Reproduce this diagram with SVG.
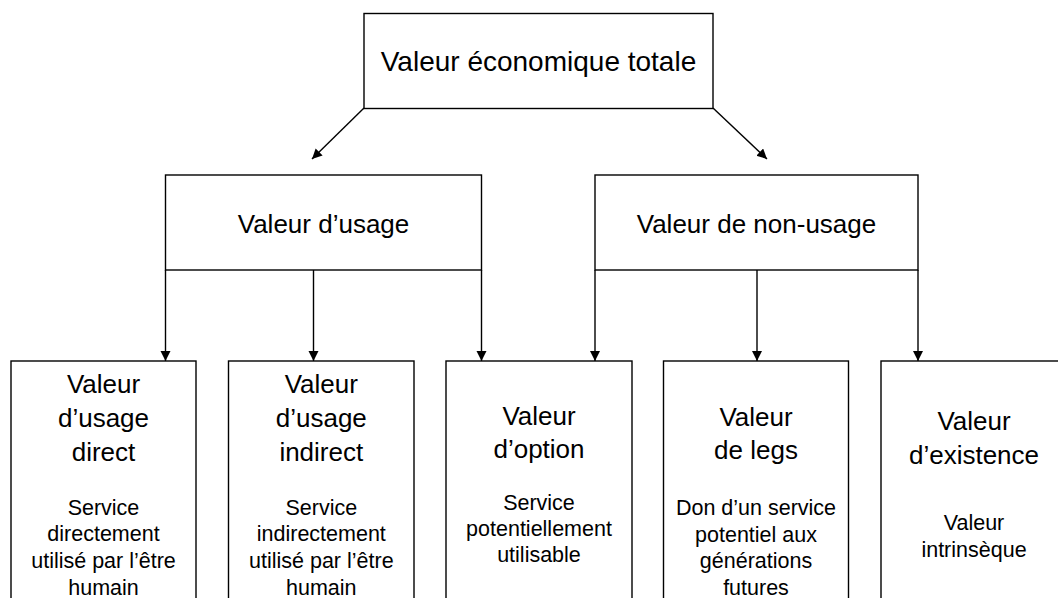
<svg xmlns="http://www.w3.org/2000/svg" width="1058" height="598" viewBox="0 0 1058 598">
<style>
.box{fill:#fff;stroke:#000;stroke-width:1.4}
.t{font-family:"Liberation Sans",Arial,sans-serif;fill:#000;text-anchor:middle}
.big{font-size:28px}
.mid{font-size:26px}
.ttl{font-size:26px}
.sm{font-size:21.5px}
.con{fill:none;stroke:#000;stroke-width:1.4}
</style>
<defs>
<marker id="ah" markerUnits="userSpaceOnUse" markerWidth="11" markerHeight="11" refX="10" refY="5" orient="auto">
<path d="M0,0 L10,5 L0,10 z" fill="#000"/>
</marker>
</defs>
<rect width="1058" height="598" fill="#fff"/>
<g id="connectors">
<line class="con" x1="364" y1="108" x2="312" y2="159" marker-end="url(#ah)"/>
<line class="con" x1="713" y1="108" x2="767" y2="159" marker-end="url(#ah)"/>
<line class="con" x1="165.5" y1="270" x2="165.5" y2="361" marker-end="url(#ah)"/>
<line class="con" x1="313.5" y1="270" x2="313.5" y2="361" marker-end="url(#ah)"/>
<line class="con" x1="481.5" y1="270" x2="481.5" y2="361" marker-end="url(#ah)"/>
<line class="con" x1="595" y1="270" x2="595" y2="361" marker-end="url(#ah)"/>
<line class="con" x1="757" y1="270" x2="757" y2="361" marker-end="url(#ah)"/>
<line class="con" x1="918" y1="270" x2="918" y2="361" marker-end="url(#ah)"/>
</g>
<g id="total">
<rect class="box" x="364" y="13.5" width="349" height="95"/>
<text class="t big" x="538.5" y="71">Valeur économique totale</text>
</g>
<g id="usage">
<rect class="box" x="165.5" y="175" width="316" height="95"/>
<text class="t mid" x="323.5" y="232.5">Valeur d’usage</text>
</g>
<g id="non-usage">
<rect class="box" x="595" y="175" width="323" height="95"/>
<text class="t mid" x="756.5" y="232.5">Valeur de non-usage</text>
</g>
<g id="direct">
<rect class="box" x="11" y="361" width="185" height="260"/>
<text class="t ttl" x="103.5" y="393">Valeur</text>
<text class="t ttl" x="103.5" y="427">d’usage</text>
<text class="t ttl" x="103.5" y="461">direct</text>
<text class="t sm" x="103.5" y="515">Service</text>
<text class="t sm" x="103.5" y="541">directement</text>
<text class="t sm" x="103.5" y="568">utilisé par l’être</text>
<text class="t sm" x="103.5" y="595">humain</text>
</g>
<g id="indirect">
<rect class="box" x="228.5" y="361" width="185.5" height="260"/>
<text class="t ttl" x="321.3" y="393">Valeur</text>
<text class="t ttl" x="321.3" y="427">d’usage</text>
<text class="t ttl" x="321.3" y="461">indirect</text>
<text class="t sm" x="321.3" y="515">Service</text>
<text class="t sm" x="321.3" y="541">indirectement</text>
<text class="t sm" x="321.3" y="568">utilisé par l’être</text>
<text class="t sm" x="321.3" y="595">humain</text>
</g>
<g id="option">
<rect class="box" x="446" y="361" width="186" height="260"/>
<text class="t ttl" x="539" y="425">Valeur</text>
<text class="t ttl" x="539" y="458">d’option</text>
<text class="t sm" x="539" y="510">Service</text>
<text class="t sm" x="539" y="536">potentiellement</text>
<text class="t sm" x="539" y="562">utilisable</text>
</g>
<g id="legs">
<rect class="box" x="663.5" y="361" width="185" height="260"/>
<text class="t ttl" x="756" y="425.5">Valeur</text>
<text class="t ttl" x="756" y="458.5">de legs</text>
<text class="t sm" x="756" y="515">Don d’un service</text>
<text class="t sm" x="756" y="541.5">potentiel aux</text>
<text class="t sm" x="756" y="568">générations</text>
<text class="t sm" x="756" y="595">futures</text>
</g>
<g id="existence">
<rect class="box" x="881" y="361" width="186" height="260"/>
<text class="t ttl" x="974" y="430">Valeur</text>
<text class="t ttl" x="974" y="464">d’existence</text>
<text class="t sm" x="974" y="530">Valeur</text>
<text class="t sm" x="974" y="557">intrinsèque</text>
</g>
</svg>
